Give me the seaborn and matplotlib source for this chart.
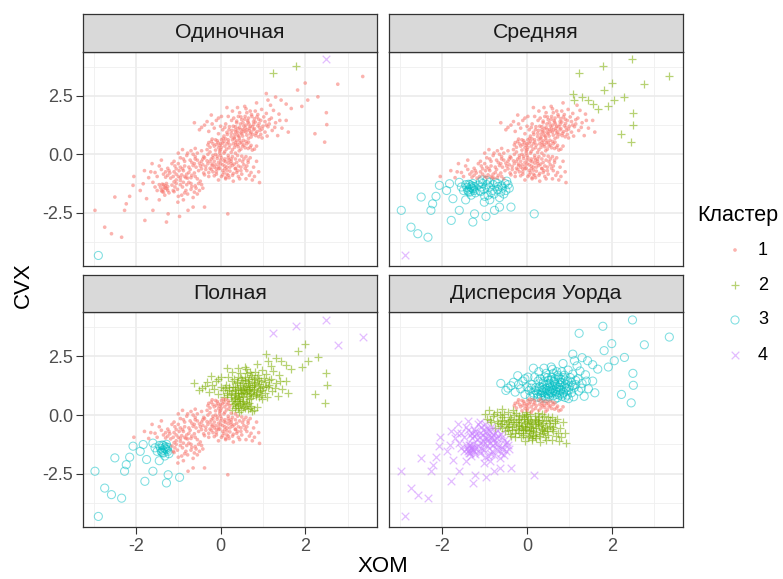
import matplotlib
matplotlib.use("Agg")
import matplotlib.pyplot as plt
import pandas as pd
import seaborn as sns

# ---------------- data ----------------
methods = ["Одиночная", "Средняя", "Полная", "Дисперсия Уорда"]
cluster_ids = [1, 2, 3, 4]
cluster_colors = ["#F8766D", "#7CAE00", "#00BFC4", "#C77CFF"]
x_ticks = [-2, 0, 2]
y_ticks = [-2.5, 0.0, 2.5]
y_tick_labels = ["-2.5", "0.0", "2.5"]

# outlying points whose cluster differs individually between methods
special_xom = [1.23, 1.79, 2.49, 3.36, 2.77, 2.00, -2.89]
special_cvx = [3.49, 3.79, 4.06, 3.33, 3.00, 3.05, -4.33]
special_single = [2, 2, 4, 1, 1, 1, 3]
special_average = [2, 2, 2, 2, 2, 2, 4]
special_complete = [4, 4, 4, 4, 4, 2, 3]
special_ward = [3, 3, 3, 3, 3, 3, 4]

# right-hand tail  (single 1, average 2, complete 2, ward 3)
right_xom = [1.82, 1.43, 1.12, 1.08, 1.67, 2.06, 2.30, 2.50, 2.51, 2.23, 2.46, 1.55, 1.92, 1.30]
right_cvx = [2.75, 2.32, 2.32, 2.60, 1.96, 2.32, 2.46, 1.78, 1.27, 0.88, 0.52, 2.15, 2.05, 2.45]
right_labels = [1, 2, 2, 3]

# upper part of the core  (1, 1, 2, 3)
upper_xom = [0.62, 0.48, 0.75, 0.33, 0.91, 0.55, 0.70, 0.41, 0.86, 0.27,
             0.64, 0.98, 0.52, 0.80, 0.15, 1.08, 0.38, 0.72, 0.95, 0.58,
             0.21, 1.15, 0.44, 0.88, 0.05, 1.22, 0.67, 0.31, 1.02, 0.12,
             0.83, 0.50, 1.30, -0.05, 0.97, 0.36, 0.78, 0.60, 1.10, 0.25,
             -0.15, 0.45, 1.38, 0.70, -0.28, 0.18, 1.45, 0.92, 0.08, -0.38,
             1.25, 0.57, 0.35, -0.10, 0.82, 1.05, 0.66, 1.55, -0.50, 0.28,
             0.98, 0.42, 1.18, -0.22, 0.74, 0.15, 0.85, 1.60, -0.62, 0.53,
             1.35, 0.02, 0.90, 0.62, -0.32, 1.12, 0.48, 0.78, 0.68, 0.40,
             0.55, 0.68, 0.45, 0.80, 0.60, 0.35, 0.72, 0.88, 0.50, 0.65,
             0.40, 0.78, 0.58, 0.93, 0.30, 0.84, 0.47, 0.70, 1.00, 0.25,
             0.62, 0.53, 0.76, 0.38, 0.95, 0.20, 1.05, 0.66, 0.43, 0.86,
             0.10, 1.15, 0.57, 0.33, 0.73, 1.20, 0.00, 0.90, 0.48, 1.08,
             -0.20, 0.26, 1.28, 0.16, 0.82, -0.45, 0.60, 1.40, -0.05, 0.40]
upper_cvx = [1.05, 0.92, 1.18, 0.85, 1.32, 1.21, 0.88, 1.10, 0.97, 1.02,
             1.44, 1.08, 0.78, 1.52, 0.94, 1.25, 1.35, 0.74, 0.85, 1.62,
             1.18, 1.48, 0.70, 1.70, 1.05, 1.02, 1.30, 1.55, 1.60, 1.30,
             0.80, 1.48, 1.35, 0.88, 1.92, 0.96, 1.05, 0.95, 0.78, 0.76,
             1.12, 1.78, 1.72, 1.85, 0.98, 1.62, 1.12, 1.15, 0.78, 1.25,
             1.88, 2.05, 1.18, 1.45, 1.38, 1.40, 0.68, 1.45, 1.05, 1.85,
             0.70, 1.62, 2.10, 1.68, 1.62, 2.00, 2.20, 0.95, 1.35, 1.35,
             0.80, 1.62, 1.50, 1.78, 1.40, 1.18, 1.05, 1.28, 1.12, 0.82,
             0.98, 1.02, 1.15, 1.10, 1.25, 1.05, 0.95, 1.22, 0.88, 1.38,
             0.95, 1.40, 1.12, 1.02, 1.20, 0.90, 1.30, 1.20, 1.20, 0.90,
             0.82, 1.05, 0.85, 1.42, 1.45, 1.05, 0.95, 1.55, 0.78, 1.60,
             1.15, 1.30, 1.50, 0.72, 1.70, 1.55, 1.20, 0.75, 1.60, 1.75,
             1.30, 1.45, 1.15, 0.85, 1.85, 1.15, 1.95, 1.45, 1.55, 2.00]
upper_labels = [1, 1, 2, 3]

# thin band between the two central clusters, left part  (1, 1, 1, 1)
band_left_xom = [-0.22, -0.10, 0.02, 0.10, -0.05, 0.18, 0.05, -0.15, 0.22, 0.12,
                 -0.28, 0.00, 0.20, -0.08, -0.18, -0.02, 0.08, 0.15, -0.12, 0.02,
                 -0.25, -0.12, 0.00, 0.14, -0.20, 0.06, -0.30, 0.18, -0.06, 0.10]
band_left_cvx = [0.55, 0.42, 0.62, 0.35, 0.28, 0.52, 0.48, 0.35, 0.40, 0.66,
                 0.50, 0.20, 0.28, 0.58, 0.45, 0.38, 0.55, 0.45, 0.62, 0.30,
                 0.30, 0.18, 0.45, 0.22, 0.65, 0.68, 0.40, 0.62, 0.50, 0.12]
band_left_labels = [1, 1, 1, 1]

# thin band, right part  (1, 1, 2, 1)
band_right_xom = [0.30, 0.42, 0.55, 0.38, 0.65, 0.48, 0.72, 0.33, 0.60, 0.50,
                  0.80, 0.28, 0.40, 0.52, 0.62, 0.45, 0.70, 0.35,
                  0.28, 0.36, 0.46, 0.58, 0.66, 0.75, 0.32, 0.54, 0.85, 0.44]
band_right_cvx = [0.45, 0.32, 0.40, 0.58, 0.25, 0.22, 0.38, 0.30, 0.55, 0.50,
                  0.22, 0.62, 0.42, 0.35, 0.45, 0.60, 0.30, 0.52,
                  0.20, 0.40, 0.48, 0.28, 0.52, 0.18, 0.68, 0.60, 0.35, 0.15]
band_right_labels = [1, 1, 2, 1]

# centre of the core  (1, 1, 1, 2)
center_xom = [-0.05, 0.10, -0.22, 0.25, -0.40, 0.05, -0.15, 0.35, -0.30, 0.18,
              -0.55, 0.45, 0.00, -0.10, 0.28, -0.45, 0.55, -0.25, 0.12, -0.35,
              0.62, -0.60, 0.40, -0.02, 0.20, -0.70, 0.70, -0.18, 0.32, -0.48,
              0.08, 0.50, -0.80, 0.15, -0.32, 0.78, -0.08, 0.38, -0.62, 0.25,
              -0.90, 0.85, 0.02, -0.40, 0.60, -0.20, 0.45, -0.72, 0.10, -0.12,
              0.35, -0.52, 0.68, -0.28, 0.22, -1.00, 0.90, -0.05, 0.52, -0.38,
              0.15, -0.65, 0.30, -0.15, 0.75, -0.85, 0.05, -0.25, 0.58, -0.45,
              0.42, -0.10, 0.18, -0.32, 0.00, 0.28, -0.58, 0.65, -0.18, 0.08,
              0.92, -0.95, 0.48, -0.75, 0.35, -0.02, 0.20, -0.42, 0.12, -0.60,
              0.00, -0.12, 0.15, -0.25, 0.28, -0.35, 0.08, -0.05, 0.22, -0.18,
              0.38, -0.42, 0.05, -0.28, 0.48, -0.08, 0.18, -0.50, 0.30, -0.15,
              0.55, -0.60, 0.12, -0.38, 0.62, -0.02, 0.42, -0.68, 0.25, -0.22,
              0.72, -0.78, 0.35, -0.45, 0.10, -0.30, 0.50, -0.10, 0.80, -0.88,
              0.18, -0.55, 0.60, 0.02, -0.20, 0.40, -0.65, 0.25, -0.05, 0.65]
center_cvx = [-0.35, -0.50, -0.20, -0.30, -0.10, -0.70, -0.55, -0.60, -0.40, -0.15,
              0.05, -0.25, -0.05, -0.85, -0.90, -0.30, -0.45, 0.10, -0.32, -0.65,
              -0.70, -0.20, -0.05, -0.60, -1.00, 0.15, -0.15, -0.75, -0.42, -0.50,
              0.05, -0.85, -0.05, -0.68, 0.20, -0.55, -0.18, -0.78, -0.40, 0.08,
              0.20, -0.30, -0.95, -0.80, -0.10, -0.42, -1.05, -0.25, -0.20, 0.00,
              -0.20, -0.70, -0.90, -0.95, -0.55, 0.05, -0.75, -1.10, -0.32, -0.15,
              -0.85, 0.00, -1.15, -0.30, -1.10, -0.30, -0.45, -0.60, -0.60, 0.15,
              -0.50, -0.62, -0.38, -0.28, -0.25, -0.10, -0.55, -0.35, -0.05, -0.78,
              -1.21, -0.15, -0.70, -0.55, 0.05, 0.15, -0.25, -0.45, -1.05, 0.25,
              -0.40, -0.45, -0.55, -0.30, -0.48, -0.52, -0.28, -0.62, -0.72, -0.15,
              -0.35, -0.20, -0.88, -0.78, -0.55, -0.08, -0.05, -0.38, -0.82, -0.92,
              -0.20, -0.10, -1.00, -0.88, -0.50, 0.05, -0.95, -0.35, -0.20, -0.65,
              -0.78, 0.05, -0.62, -0.62, -0.62, 0.00, -0.08, -0.75, -0.95, -0.20,
              -0.90, -0.25, -1.05, -0.15, -0.48, -0.70, -0.48, -0.40, -0.50, -0.25]
center_labels = [1, 1, 1, 2]

# lower-left of the core, still red for average linkage  (1, 1, 1, 4)
lowa_xom = [-0.95, -1.10, -0.80, -1.25, -0.70, -1.00, -1.35, -0.88, -1.15, -0.60,
            -1.45, -0.78, -1.05, -1.30, -0.92, -1.55, -0.55, -1.20, -0.85, -1.62,
            -1.40, -1.80, -1.10, -2.05, -1.70,
            -0.98, -1.12, -0.82, -1.22, -0.90, -1.05, -0.75, -1.30, -0.68, -1.18,
            -0.95, -1.40, -0.85, -1.08, -0.62, -1.50, -0.72, -1.25, -1.00, -1.65]
lowa_cvx = [-0.55, -0.75, -0.85, -0.60, -1.00, -0.95, -0.85, -0.70, -0.40, -0.95,
            -0.50, -1.02, -0.62, -0.98, -0.88, -0.78, -1.05, -0.80, -0.50, -0.40,
            -0.25, -0.70, -0.30, -0.95, -1.00,
            -0.70, -0.95, -1.00, -0.70, -0.62, -0.85, -0.78, -0.75, -0.90, -1.02,
            -1.00, -0.65, -0.95, -0.50, -0.80, -0.95, -0.65, -0.90, -0.40, -0.75]
lowa_labels = [1, 1, 1, 4]

# lower tail, middle part  (1, 3, 1, 4)
lowm_xom = [-1.05, -0.90, -0.75, -1.12, -0.60, -0.85, -0.48, -1.00, -0.70, -0.95,
            -0.55, -1.08, -0.80, -0.65, -0.42, -1.01, -0.77, -0.65, -0.38, -0.88,
            -0.52, -1.10, 0.17,
            -0.95, -0.70, -1.10, -0.82, -0.58, -1.02, -0.88, -0.62, -0.78, -0.45,
            -1.15, -0.92, -0.50, -0.68, -1.05]
lowm_cvx = [-1.25, -1.40, -1.20, -1.55, -1.35, -1.65, -1.15, -1.80, -1.50, -1.12,
            -1.70, -1.40, -1.30, -1.85, -1.45, -2.05, -2.40, -2.26, -2.26, -1.95,
            -1.25, -1.18, -2.55,
            -1.30, -1.25, -1.60, -1.55, -1.45, -1.50, -1.20, -1.62, -1.70, -1.30,
            -1.32, -1.75, -1.55, -1.38, -1.10]
lowm_labels = [1, 3, 1, 4]

# far lower-left tail  (1, 3, 3, 4)
lowf_xom = [-2.97, -2.74, -2.58, -2.34, -2.50, -2.23, -2.27, -2.07, -1.83, -1.75,
            -1.79, -1.60, -1.28, -1.24, -0.97, -1.35, -1.30, -1.38, -1.25, -1.42,
            -1.32, -1.28, -1.50, -1.22, -1.60, -1.45, -1.90, -2.15,
            -1.33, -1.36, -1.30, -1.40, -1.27, -1.35, -1.45, -1.25, -1.38, -1.55]
lowf_cvx = [-2.40, -3.12, -3.40, -3.55, -1.83, -2.12, -2.40, -1.33, -1.26, -1.90,
            -2.83, -2.40, -2.90, -2.55, -2.66, -1.30, -1.45, -1.60, -1.38, -1.42,
            -1.75, -1.25, -1.55, -1.65, -1.20, -1.95, -1.55, -1.80,
            -1.40, -1.50, -1.35, -1.55, -1.48, -1.62, -1.30, -1.55, -1.28, -1.40]
lowf_labels = [1, 3, 3, 4]

# ---------------- build long table ----------------
rows = []
for i in range(len(special_xom)):
    labs = [special_single[i], special_average[i], special_complete[i], special_ward[i]]
    for m, lab in zip(methods, labs):
        rows.append((special_xom[i], special_cvx[i], m, lab))
groups = [(right_xom, right_cvx, right_labels), (upper_xom, upper_cvx, upper_labels),
          (band_left_xom, band_left_cvx, band_left_labels),
          (band_right_xom, band_right_cvx, band_right_labels),
          (center_xom, center_cvx, center_labels), (lowa_xom, lowa_cvx, lowa_labels),
          (lowm_xom, lowm_cvx, lowm_labels), (lowf_xom, lowf_cvx, lowf_labels)]
for gx, gy, labs in groups:
    for xv, yv in zip(gx, gy):
        for m, lab in zip(methods, labs):
            rows.append((xv, yv, m, lab))
df = pd.DataFrame(rows, columns=["XOM", "CVX", "method", "cluster"])

# ---------------- styling ----------------
sns.set_theme(style="white")
plt.rcParams["font.family"] = ["Liberation Sans", "DejaVu Sans"]

W, H = 783, 579
fig = plt.figure(figsize=(W / 100, H / 100), dpi=100)


def px_rect(x0, y0, x1, y1):
    return [x0 / W, 1 - y1 / H, (x1 - x0) / W, (y1 - y0) / H]


col_x = [(82.7, 376.7), (389.0, 683.3)]
row_y = [(13.5, 51.5, 265.5), (274.5, 312.0, 526.5)]

mstyle = {
    1: dict(marker="o", s=7, linewidth=0, edgecolor="none", alpha=0.55),
    2: dict(marker="+", s=40, linewidth=0.9, alpha=0.55),
    3: dict(marker="o", s=34, linewidth=0.75, facecolor="none", alpha=0.5),
    4: dict(marker="x", s=30, linewidth=0.9, alpha=0.5),
}
draw_order = [2, 3, 4, 1]

for i, m in enumerate(methods):
    r, c = divmod(i, 2)
    x0, x1 = col_x[c]
    st, pt, pb = row_y[r]
    ax = fig.add_axes(px_rect(x0, pt, x1, pb))
    sax = fig.add_axes(px_rect(x0, st, x1, pt))
    sub = df[df["method"] == m]
    for cid in draw_order:
        col = cluster_colors[cid - 1]
        d = sub[sub["cluster"] == cid]
        kw = dict(mstyle[cid])
        if cid == 3:
            kw["edgecolor"] = col
        sns.scatterplot(data=d, x="XOM", y="CVX", color=col, ax=ax, legend=False, zorder=3, **kw)
    ax.set_xlim(-3.26, 3.69)
    ax.set_ylim(-4.76, 4.40)
    ax.set_xticks(x_ticks)
    ax.set_xticklabels([str(t) for t in x_ticks])
    ax.set_yticks(y_ticks)
    ax.set_yticklabels(y_tick_labels)
    ax.set_xticks([-3, -1, 1, 3], minor=True)
    ax.set_yticks([-3.75, -1.25, 1.25, 3.75], minor=True)
    ax.grid(which="major", color="#EBEBEB", linewidth=1.2, zorder=0)
    ax.grid(which="minor", color="#EFEFEF", linewidth=0.6, zorder=0)
    ax.set_axisbelow(True)
    ax.set_facecolor("white")
    ax.set_xlabel("")
    ax.set_ylabel("")
    for sp in ax.spines.values():
        sp.set_color("#333333")
        sp.set_linewidth(0.9)
    ax.tick_params(which="minor", length=0)
    ax.tick_params(which="major", direction="out", length=5, width=0.8, color="#333333",
                   labelcolor="#4D4D4D", labelsize=13)
    ax.tick_params(axis="x", pad=3.5)
    ax.tick_params(axis="y", pad=2)
    ax.tick_params(bottom=(r == 1), labelbottom=(r == 1), left=(c == 0), labelleft=(c == 0))
    # strip
    sax.set_facecolor("#D9D9D9")
    sax.set_xticks([])
    sax.set_yticks([])
    for sp in sax.spines.values():
        sp.set_color("#333333")
        sp.set_linewidth(0.9)
    sax.text(0.5, 0.5, m, ha="center", va="center", fontsize=15.3, color="#1A1A1A",
             transform=sax.transAxes)

fig.text(383 / W, 1 - 566 / H, "XOM", ha="center", va="center", fontsize=16, color="black")
fig.text(23 / W, 1 - 285 / H, "CVX", ha="center", va="center", rotation=90, fontsize=16, color="black")

# legend
fig.text(697 / W, 1 - 215 / H, "Кластер", ha="left", va="center", fontsize=15.5, color="black")
kax = fig.add_axes(px_rect(715, 230, 755, 375))
kax.set_xlim(715, 755)
kax.set_ylim(375, 230)
kax.axis("off")
leg_y = [250, 285, 320, 355]
for cid, col, yy in zip(cluster_ids, cluster_colors, leg_y):
    kw = dict(mstyle[cid])
    if cid == 3:
        kw["edgecolor"] = col
    kax.scatter([735], [yy], color=col, **kw)
    fig.text(758 / W, 1 - yy / H, str(cid), ha="left", va="center", fontsize=13, color="black")

fig.savefig("out.png", dpi=100)
